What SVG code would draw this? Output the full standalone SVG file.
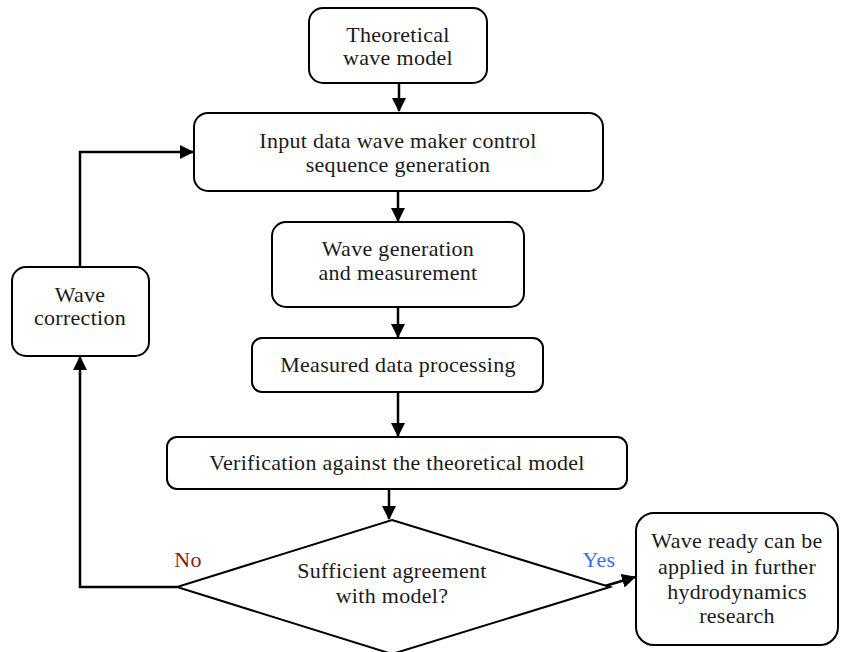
<svg xmlns="http://www.w3.org/2000/svg" width="841" height="652" viewBox="0 0 841 652">
<defs>
<marker id="ah" markerWidth="14" markerHeight="14" refX="13" refY="7" orient="auto" markerUnits="userSpaceOnUse"><path d="M0,0 L14,7 L0,14 Z" fill="#000"/></marker>
<style>
.box{fill:#fff;stroke:#000;stroke-width:2}
.t{font-family:"Liberation Serif","Times New Roman",serif;font-size:22px;letter-spacing:0.3px;fill:#1a1a1a;text-anchor:middle}
.c{fill:none;stroke:#000;stroke-width:2.5}
</style>
</defs>
<rect width="841" height="652" fill="#fff"/>
<g id="connectors">
<path class="c" d="M399,83 V111" marker-end="url(#ah)"/>
<path class="c" d="M398,191 V221" marker-end="url(#ah)"/>
<path class="c" d="M398,307 V337" marker-end="url(#ah)"/>
<path class="c" d="M398,392 V436" marker-end="url(#ah)"/>
<path class="c" d="M389,489 V519" marker-end="url(#ah)"/>
<path class="c" d="M177,587 H80 V357" marker-end="url(#ah)"/>
<path class="c" d="M80,267 V152 H193" marker-end="url(#ah)"/>
<path class="c" d="M605,586 L635,577" marker-end="url(#ah)"/>
</g>
<g id="n1"><rect class="box" x="309" y="8" width="178" height="75" rx="14"/><text class="t" x="398" y="42">Theoretical</text><text class="t" x="398" y="65">wave model</text></g>
<g id="n2"><rect class="box" x="194" y="113" width="409" height="78" rx="14"/><text class="t" x="398" y="148">Input data wave maker control</text><text class="t" x="398" y="172">sequence generation</text></g>
<g id="n3"><rect class="box" x="272" y="222" width="252" height="85" rx="14"/><text class="t" x="398" y="256">Wave generation</text><text class="t" x="398" y="280">and measurement</text></g>
<g id="n4"><rect class="box" x="252" y="338" width="291" height="54" rx="10"/><text class="t" x="398" y="372">Measured data processing</text></g>
<g id="n5"><rect class="box" x="167" y="437" width="460" height="52" rx="10"/><text class="t" x="397" y="470">Verification against the theoretical model</text></g>
<g id="n6"><polygon class="box" points="392,520 610,587 392,654 177,587"/><text class="t" x="392" y="578">Sufficient agreement</text><text class="t" x="392" y="603">with model?</text><text class="t" x="188" y="567" style="fill:#8b1a1a">No</text><text class="t" x="599" y="567" style="fill:#3d6cf0">Yes</text></g>
<g id="n7"><rect class="box" x="636" y="513" width="202" height="132" rx="18"/><text class="t" x="737" y="548">Wave ready can be</text><text class="t" x="737" y="574">applied in further</text><text class="t" x="737" y="599">hydrodynamics</text><text class="t" x="737" y="623">research</text></g>
<g id="n8"><rect class="box" x="12" y="267" width="137" height="89" rx="14"/><text class="t" x="80" y="302">Wave</text><text class="t" x="80" y="325">correction</text></g>
</svg>
